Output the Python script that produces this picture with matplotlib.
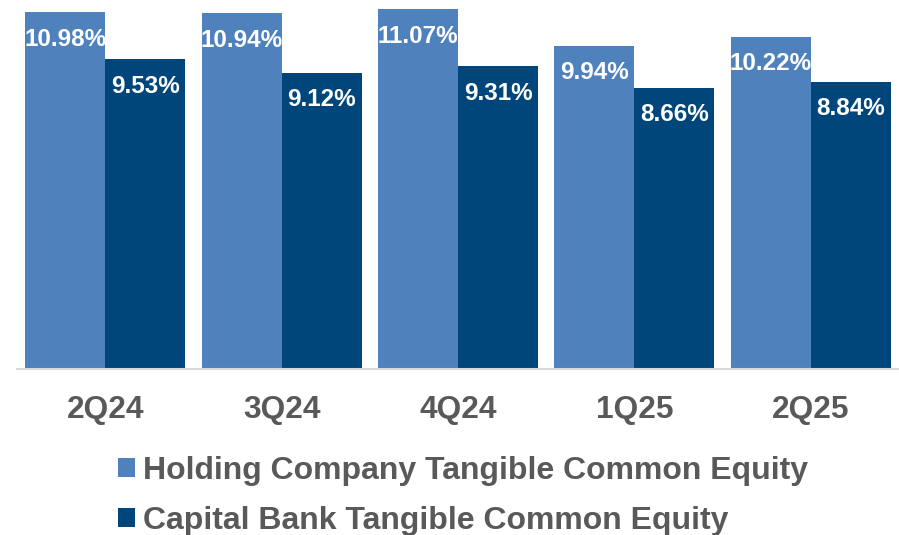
import matplotlib.pyplot as plt
import numpy as np

quarters = ['2Q24', '3Q24', '4Q24', '1Q25', '2Q25']
holding_tce = [10.98, 10.94, 11.07, 9.94, 10.22]
bank_tce = [9.53, 9.12, 9.31, 8.66, 8.84]
series_names = ['Holding Company Tangible Common Equity',
                'Capital Bank Tangible Common Equity']

light_blue = '#4F81BD'
dark_blue = '#00467A'
gray_text = '#595959'

plt.rcParams['font.family'] = ['Liberation Sans', 'DejaVu Sans']

fig = plt.figure(figsize=(8.99, 5.35), dpi=100)
ax = fig.add_axes([17 / 899, 166 / 535, 882 / 899, 369 / 535])

x = np.arange(len(quarters))
w = 0.4536
b1 = ax.bar(x - w / 2, holding_tce, w, color=light_blue, label=series_names[0])
b2 = ax.bar(x + w / 2, bank_tce, w, color=dark_blue, label=series_names[1])

for bars, vals in ((b1, holding_tce), (b2, bank_tce)):
    for bar, v in zip(bars, vals):
        ax.annotate('{:.2f}%'.format(v), (bar.get_x() + bar.get_width() / 2, v),
                    xytext=(0, -27), textcoords='offset pixels',
                    ha='center', va='center', color='white',
                    fontsize=17.5, fontweight='bold')

ax.set_xlim(-0.5, len(quarters) - 0.5)
ax.set_ylim(0, 369 / 32.5)
ax.set_xticks(x)
ax.set_xticklabels(quarters, fontsize=22.8, fontweight='bold', color=gray_text)
ax.tick_params(axis='x', length=0, pad=19)
ax.set_yticks([])
for s in ['top', 'right', 'left']:
    ax.spines[s].set_visible(False)
ax.spines['bottom'].set_color('#D9D9D9')
ax.spines['bottom'].set_linewidth(1.5)

leg = fig.legend(handles=[b1, b2], loc='upper left',
                 bbox_to_anchor=(118 / 899, 1 - 456 / 535),
                 frameon=False,
                 prop={'weight': 'bold', 'size': 23},
                 handlelength=0.53, handleheight=0.53,
                 handletextpad=0.25, labelspacing=0.62,
                 borderpad=0, borderaxespad=0)
for t in leg.get_texts():
    t.set_color(gray_text)

fig.savefig('out.png', dpi=100)
